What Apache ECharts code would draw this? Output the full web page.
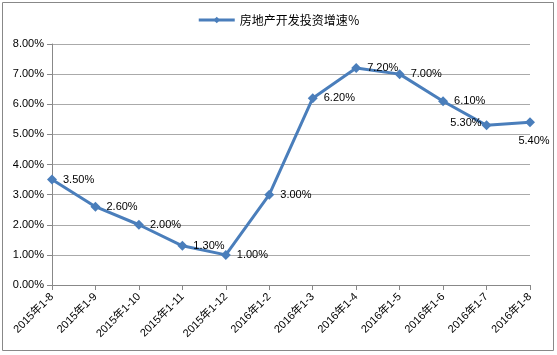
<!DOCTYPE html>
<html>
<head>
<meta charset="utf-8">
<script src="https://cdn.jsdelivr.net/npm/echarts@6/dist/echarts.min.js"></script>
<style>
  html, body { margin: 0; padding: 0; background: #fff; }
  #main { width: 557px; height: 355px; }
</style>
</head>
<body>
<div id="main"></div>
<script>
// 数据
var categories = ['2015年1-8', '2015年1-9', '2015年1-10', '2015年1-11', '2015年1-12',
    '2016年1-2', '2016年1-3', '2016年1-4', '2016年1-5', '2016年1-6', '2016年1-7', '2016年1-8'];
var growth = [3.5, 2.6, 2.0, 1.3, 1.0, 3.0, 6.2, 7.2, 7.0, 6.1, 5.3, 5.4];
var seriesName = '房地产开发投资增速％';

var myChart = echarts.init(document.getElementById('main'));

var points = growth.map(function (v, i) {
    var item = { value: v };
    if (i === 10) {
        item.label = { position: 'left', offset: [6, -2] };
    } else if (i === 11) {
        item.label = { position: 'bottom', offset: [4, 2] };
    }
    return item;
});

var option = {
    animation: false,
    graphic: [{
        type: 'rect',
        shape: { x: 2.5, y: 2.5, width: 551, height: 348 },
        style: { fill: 'none', stroke: '#888', lineWidth: 1 }
    }],
    legend: {
        data: [{ name: seriesName, itemStyle: { color: '#4a7ebb' }, lineStyle: { width: 3 } }],
        top: 9,
        left: 'center',
        itemWidth: 36,
        itemHeight: 8,
        itemGap: 4,
        textStyle: { fontSize: 12, color: '#000', fontFamily: 'Noto Sans CJK SC' }
    },
    grid: { left: 52, right: 27, top: 44, bottom: 70 },
    xAxis: {
        type: 'category',
        data: categories,
        boundaryGap: false,
        axisLine: { lineStyle: { color: '#888' } },
        axisTick: { show: true, length: 5, lineStyle: { color: '#888' } },
        axisLabel: {
            rotate: 45,
            margin: 10,
            fontSize: 11,
            color: '#000',
            fontFamily: 'Liberation Sans, Noto Sans CJK SC'
        }
    },
    yAxis: {
        type: 'value',
        min: 0,
        max: 8,
        interval: 1,
        axisLine: { show: true, lineStyle: { color: '#888' } },
        axisTick: { show: true, length: 5, lineStyle: { color: '#888' } },
        splitLine: { lineStyle: { color: '#aaa' } },
        axisLabel: {
            margin: 8,
            fontSize: 11,
            color: '#000',
            fontFamily: 'Liberation Sans',
            formatter: function (v) { return v.toFixed(2) + '%'; }
        }
    },
    series: [{
        name: seriesName,
        type: 'line',
        data: points,
        symbol: 'diamond',
        symbolSize: 10,
        lineStyle: { color: '#4a7ebb', width: 3 },
        itemStyle: { color: '#4a7ebb' },
        label: {
            show: true,
            position: 'right',
            distance: 6,
            fontSize: 11,
            color: '#000',
            fontFamily: 'Liberation Sans',
            formatter: function (p) { return p.value.toFixed(2) + '%'; }
        }
    }]
};

myChart.setOption(option);
</script>
</body>
</html>
